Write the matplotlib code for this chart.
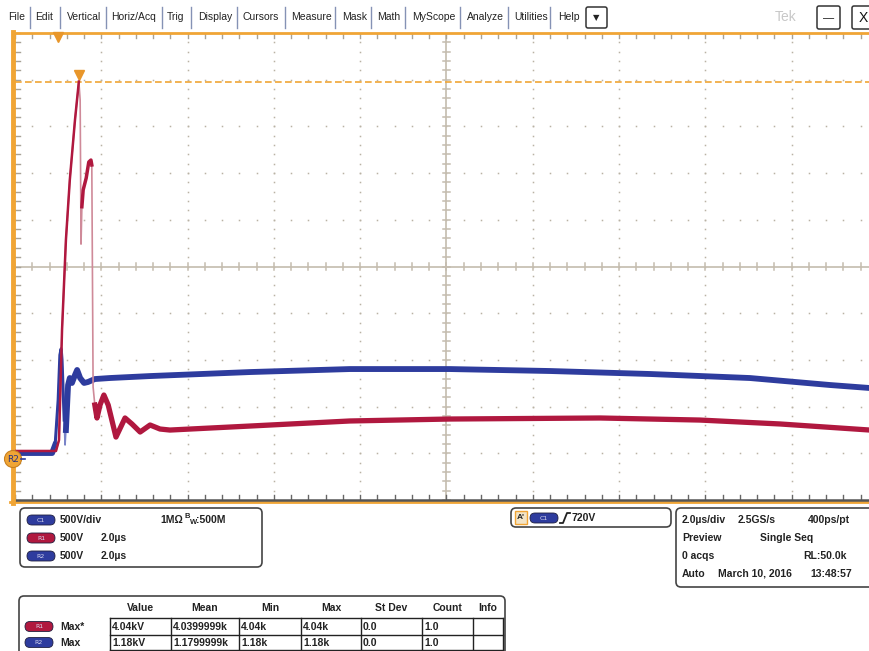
import matplotlib
matplotlib.use('Agg')
import matplotlib.pyplot as plt
import numpy as np
from matplotlib.patches import FancyBboxPatch, Rectangle, Circle

# reference waveforms, time in us, amplitude in V
r1_t = [-1.0, -0.05, 0.02, 0.09, 0.18, 0.27, 0.39, 0.48, 0.51, 0.53, 0.55, 0.58, 0.65, 0.71,
        0.76, 0.78, 0.81, 0.85, 0.90, 0.97, 1.06, 1.16, 1.34, 1.55, 1.71, 1.90, 2.13, 2.36,
        2.59, 4.45, 6.76, 9.08, 12.56, 14.87, 16.73, 18.81, 19.0]
r1_v = [85, 85, 202, 1380, 2344, 2986, 3628, 4040, 3843, 2300, 2700, 2880, 3007, 3179,
        3200, 3147, 770, 577, 438, 577, 684, 577, 234, 438, 374, 288, 363, 320,
        309, 352, 406, 427, 438, 416, 374, 309, 300]

r2_t = [-1.0, -0.14, -0.07, 0.0, 0.04, 0.07, 0.09, 0.14, 0.16, 0.18, 0.23, 0.27, 0.32, 0.39,
        0.44, 0.51, 0.60, 0.69, 0.85, 1.20, 2.13, 4.45, 6.76, 9.08, 11.40, 13.72, 16.03,
        17.89, 18.81, 19.0]
r2_v = [63, 63, 149, 630, 1112, 1180, 1059, 416, 149, 309, 791, 866, 813, 898,
        952, 866, 813, 823, 855, 866, 887, 930, 962, 962, 941, 909, 866,
        791, 759, 750]

r1_peak = 4040

menu_items = ['File', 'Edit', 'Vertical', 'Horiz/Acq', 'Trig', 'Display', 'Cursors',
              'Measure', 'Mask', 'Math', 'MyScope', 'Analyze', 'Utilities', 'Help']
menu_x = [8, 35, 67, 111, 167, 198, 243, 291, 342, 377, 412, 467, 514, 558]
menu_sep = [30, 60, 106, 162, 191, 237, 285, 335, 371, 405, 460, 508, 550]

table_cols = ['Value', 'Mean', 'Min', 'Max', 'St Dev', 'Count', 'Info']
table_rows = [['4.04kV', '4.0399999k', '4.04k', '4.04k', '0.0', '1.0', ''],
              ['1.18kV', '1.1799999k', '1.18k', '1.18k', '0.0', '1.0', '']]
table_names = ['Max*', 'Max']
table_badges = ['R1', 'R2']

RED = '#b0183f'
PINK = '#cf8a99'
BLUE = '#2e3c9e'
ORANGE = '#f0a535'
GRAT = '#c4bcae'
DOT = '#b9b2a4'

fig = plt.figure(figsize=(8.7, 6.51), dpi=100)
fig.patch.set_facecolor('white')

# ---- user interface layer, in pixels ----
ui = fig.add_axes([0, 0, 1, 1], zorder=0)
ui.set_xlim(0, 870)
ui.set_ylim(651, 0)
ui.axis('off')

for name, x in zip(menu_items, menu_x):
    ui.text(x, 17, name, fontsize=7.5, family='Liberation Sans', color='#222222', va='center')
for x in menu_sep:
    ui.plot([x, x], [7, 28], color='#8592b5', lw=1)
ui.add_patch(FancyBboxPatch((586, 7), 21, 21, boxstyle='round,pad=0,rounding_size=2',
                            fc='white', ec='#333333', lw=1.1))
ui.text(596.5, 17.5, '\u25bc', fontsize=6, ha='center', va='center', color='#222222')
ui.text(775, 17, 'Tek', fontsize=10, color='#c8c8c8', va='center', family='Liberation Sans')
for x0, lab in [(817, '\u2014'), (852, 'X')]:
    ui.add_patch(FancyBboxPatch((x0, 6), 23, 23, boxstyle='round,pad=0,rounding_size=2',
                                fc='white', ec='#333333', lw=1.1))
    ui.text(x0 + 11.5, 18, lab, fontsize=10 if lab == 'X' else 8, ha='center', va='center',
            color='#111111', family='Liberation Sans')

# bottom frame of the graticule
ui.plot([10, 870], [502, 502], color=ORANGE, lw=2)


def badge(x, y, label, color):
    ui.add_patch(FancyBboxPatch((x, y - 5), 28, 10, boxstyle='round,pad=0,rounding_size=5',
                                fc=color, ec='#202040', lw=0.6))
    ui.text(x + 14, y, label, fontsize=4.5, color='#d8d8f0', ha='center', va='center')


def panel(x0, y0, x1, y1):
    ui.add_patch(FancyBboxPatch((x0, y0), x1 - x0, y1 - y0,
                                boxstyle='round,pad=0,rounding_size=5',
                                fc='white', ec='#444444', lw=1.2))


bold = dict(fontsize=7.5, fontweight='bold', family='Liberation Sans', color='#222222',
            va='center')

# vertical settings
panel(20, 508, 262, 567)
badge(27, 520, 'C1', BLUE)
badge(27, 538, 'R1', RED)
badge(27, 556, 'R2', BLUE)
ui.text(60, 520, '500V/div', **bold)
ui.text(160, 520, '1M\u03a9', **bold)
ui.text(185, 516.5, 'B', fontsize=5.5, fontweight='bold', family='Liberation Sans',
        color='#222222', va='center')
ui.text(189.5, 522.5, 'W', fontsize=5.5, fontweight='bold', family='Liberation Sans',
        color='#222222', va='center')
ui.text(196, 520, ':500M', **bold)
ui.text(60, 538, '500V', **bold)
ui.text(101, 538, '2.0\u00b5s', **bold)
ui.text(60, 556, '500V', **bold)
ui.text(101, 556, '2.0\u00b5s', **bold)

# trigger
panel(511, 508, 671, 527)
ui.add_patch(Rectangle((515, 511), 12, 13, fc='#f3e4c6', ec=ORANGE, lw=1))
ui.text(521, 517.5, "A'", fontsize=6, fontweight='bold', ha='center', va='center',
        color='#222222', family='Liberation Sans')
badge(530, 518, 'C1', BLUE)
ui.plot([560, 563, 567, 570], [523, 523, 513, 513], color='#222222', lw=1.3)
ui.text(572, 518, '720V', **bold)

# horizontal / acquisition
panel(676, 508, 880, 587)
ui.text(682, 520, '2.0\u00b5s/div', **bold)
ui.text(738, 520, '2.5GS/s', **bold)
ui.text(808, 520, '400ps/pt', **bold)
ui.text(682, 538, 'Preview', **bold)
ui.text(760, 538, 'Single Seq', **bold)
ui.text(682, 556, '0 acqs', **bold)
ui.text(803, 556, 'RL:50.0k', **bold)
ui.text(682, 574, 'Auto', **bold)
ui.text(718, 574, 'March 10, 2016', **bold)
ui.text(810, 574, '13:48:57', **bold)

# measurement table
panel(19, 596, 505, 662)
col_edges = [110, 171, 239, 301, 361, 422, 473, 503]
row_edges = [618, 635, 650]
for i, c in enumerate(table_cols):
    ui.text((col_edges[i] + col_edges[i + 1]) / 2, 608, c, ha='center', **bold)
for x in col_edges:
    ui.plot([x, x], [row_edges[0], row_edges[-1]], color='#222222', lw=1)
for y in row_edges:
    ui.plot([col_edges[0], col_edges[-1]], [y, y], color='#222222', lw=1)
for r, row in enumerate(table_rows):
    yc = (row_edges[r] + row_edges[r + 1]) / 2
    badge(25, yc, table_badges[r], RED if r == 0 else BLUE)
    ui.text(60, yc, table_names[r], **bold)
    for i, val in enumerate(row):
        ui.text(col_edges[i] + 2, yc, val, **bold)

# ---- scope graticule ----
ax = fig.add_axes([15 / 870, (651 - 500) / 651, 863 / 870, 467 / 651], zorder=1)
ax.set_xlim(-1, 19)
ax.set_ylim(-440, 4560)
ax.axis('off')
ax.patch.set_alpha(0)

maj_x = np.arange(-1, 19.01, 2.0)
maj_y = np.arange(-440, 4561, 500)
min_x = np.arange(-1, 19.01, 0.4)
min_y = np.arange(-440, 4561, 100)
cx, cy = 9.0, 2060

for x in maj_x[1:-1]:
    if x == cx:
        continue
    ax.plot(np.full(len(min_y), x), min_y, ls='none', marker='s', ms=1.1, mew=0, color=DOT)
for y in maj_y[1:-1]:
    if y == cy:
        continue
    ax.plot(min_x, np.full(len(min_x), y), ls='none', marker='s', ms=1.1, mew=0, color=DOT)

ax.axvline(cx, color=GRAT, lw=1.2)
ax.axhline(cy, color=GRAT, lw=1.2)
for y in min_y:
    ax.plot([cx - 0.08, cx + 0.08], [y, y], color=GRAT, lw=1.1)
    ax.plot([-1, -0.88], [y, y], color='#a8a296', lw=1.0, clip_on=False)
for x in min_x:
    ax.plot([x, x], [cy - 37, cy + 37], color=GRAT, lw=1.1)
    ax.plot([x, x], [4560, 4505], color='#a8a296', lw=1.0)
    ax.plot([x, x], [-440, -385], color='#666666', lw=1.0)

ax.plot([-1, 19], [4560, 4560], color=ORANGE, lw=2, clip_on=False)
ax.plot([-1, 19], [-440, -440], color='#555555', lw=1.8, clip_on=False)
ax.plot([-1.05, -1.05], [-470, 4575], color=ORANGE, lw=3.5, clip_on=False)

# trigger position and peak marker
ax.plot([0], [4515], marker='v', ms=7, color='#e8962a', clip_on=False)
ax.axhline(r1_peak, color=ORANGE, lw=1.2, ls=(0, (4, 2)))
ax.plot([0.48], [r1_peak + 70], marker='v', ms=7, color='#e8962a')

# ---- traces ----
r1_t = np.array(r1_t)
r1_v = np.array(r1_v)
r2_t = np.array(r2_t)
r2_v = np.array(r2_v)

ax.plot(r2_t, r2_v, color='#7a84c8', lw=1.2, zorder=3)
m = r2_t <= -0.07
ax.plot(r2_t[m], r2_v[m], color=BLUE, lw=4.2, zorder=3)
m = (r2_t >= -0.07) & (r2_t <= 0.14)
ax.plot(r2_t[m], r2_v[m], color=BLUE, lw=2.2, zorder=3)
m = r2_t >= 0.18
ax.plot(r2_t[m], r2_v[m], color=BLUE, lw=4.2, zorder=3)

ax.plot(r1_t, r1_v, color=PINK, lw=1.2, zorder=4)
m = r1_t <= 0.48
ax.plot(r1_t[m], r1_v[m], color=RED, lw=1.8, zorder=4)
m = (r1_t >= 0.55) & (r1_t <= 0.78)
ax.plot(r1_t[m], r1_v[m], color=RED, lw=2.5, zorder=4)
m = r1_t >= 0.85
ax.plot(r1_t[m], r1_v[m], color=RED, lw=3.8, zorder=4)

# R2 reference marker on the left edge, on top of everything
top = fig.add_axes([0, 0, 1, 1], zorder=2)
top.set_xlim(0, 870)
top.set_ylim(651, 0)
top.axis('off')
top.patch.set_alpha(0)
top.add_patch(Circle((13, 459), 8.5, fc=ORANGE, ec='#c88020', lw=0.8))
top.text(13, 459.5, 'R2', fontsize=6.5, color='#2a3580', ha='center', va='center')
top.plot([21, 25], [459, 459], color=BLUE, lw=1.2)

fig.savefig('out.png', dpi=100)
